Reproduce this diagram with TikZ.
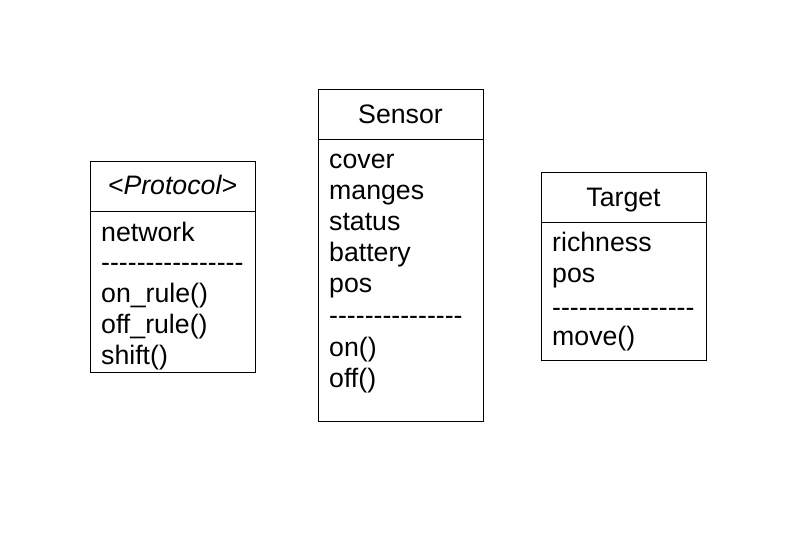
\documentclass[tikz,border=0pt]{standalone}
\usepackage{fontspec}
\setmainfont{Liberation Sans}
\usepackage{tikz}

% hyphens kept apart so that they do not join into dashes
\newcommand{\dashes}[1]{\foreach \d in {1,...,#1}{-\kern0pt}}

\tikzset{
	classbox/.style={draw, line width=0.8pt, anchor=north west, inner sep=0pt, minimum width=165pt},
	classname/.style={anchor=base, inner sep=0pt, font=\fontsize{26.7}{31}\selectfont},
	member/.style={anchor=base west, inner sep=0pt, font=\fontsize{26.7}{31}\selectfont},
}

\begin{document}
\begin{tikzpicture}[x=1pt,y=-1pt]
	\useasboundingbox (0,0) rectangle (794,559);
	
	% Protocol
	\node[classbox, minimum height=211pt] (protocol) at (90,161) {};
	\node[classname] (protocol-name) at (172.5,194) {\textit{<Protocol>}};
	\draw[line width=0.8pt] ([yshift=-50pt]protocol.north west) -- ([yshift=-50pt]protocol.north east);
	\foreach \t/\y [count=\i] in {network/241, \dashes{16}/271, on\_rule()/302, off\_rule()/333, shift()/364}{
		\node[member] (protocol-\i) at (101,\y) {\t};
	}
	
	% Sensor
	\node[classbox, minimum height=332pt] (sensor) at (318,89) {};
	\node[classname] (sensor-name) at (400.5,123) {Sensor};
	\draw[line width=0.8pt] ([yshift=-50pt]sensor.north west) -- ([yshift=-50pt]sensor.north east);
	\foreach \t/\y [count=\i] in {cover/168, manges/199, status/230, battery/261, pos/292, \dashes{15}/324, on()/356, off()/387}{
		\node[member] (sensor-\i) at (329,\y) {\t};
	}
	
	% Target
	\node[classbox, minimum height=188pt] (target) at (541,172) {};
	\node[classname] (target-name) at (623.5,206) {Target};
	\draw[line width=0.8pt] ([yshift=-50pt]target.north west) -- ([yshift=-50pt]target.north east);
	\foreach \t/\y [count=\i] in {richness/251, pos/282, \dashes{16}/316, move()/345}{
		\node[member] (target-\i) at (552,\y) {\t};
	}
\end{tikzpicture}
\end{document}
